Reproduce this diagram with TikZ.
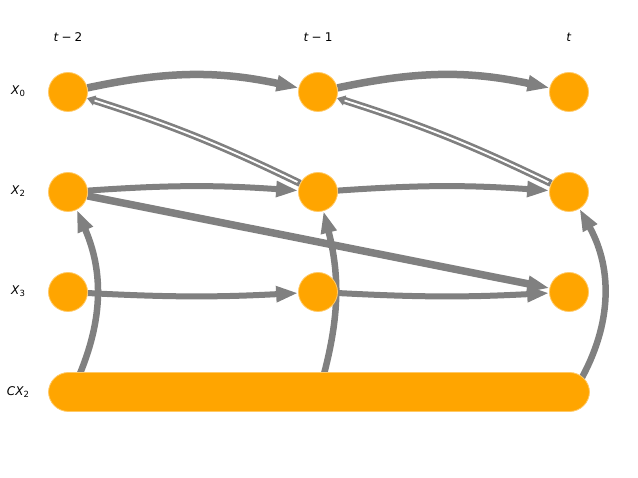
\documentclass[tikz,border=0pt]{standalone}
\usepackage{fontspec}
\setmainfont{DejaVu Sans}
\usetikzlibrary{arrows.meta,backgrounds}
\definecolor{nodeor}{HTML}{FFA500}
\definecolor{edgegr}{HTML}{808080}
\newcommand{\sub}[1]{\raisebox{-2.5pt}{\fontsize{8.5}{10}\selectfont #1}}
\begin{document}
\begin{tikzpicture}[x=1pt,y=-1pt,
  var/.style={circle,fill=nodeor,draw=nodeor!60!white,line width=0.8pt,minimum size=39pt,inner sep=0pt},
  barnode/.style={rectangle,rounded corners=20pt,fill=nodeor,draw=nodeor!60!white,line width=0.8pt,minimum width=541pt,minimum height=39pt,inner sep=0pt},
  lbl/.style={font=\fontsize{12}{14}\selectfont},
  link/.style={draw=edgegr,line width=#1,-{Triangle[length=22pt,width=15pt]}},
  link/.default=6pt,
  dbl/.style={draw=edgegr,line width=7.2pt,{Triangle[length=8pt,width=10pt]}-},
  dblin/.style={draw=white,line width=1.8pt,shorten <=8pt,shorten >=3pt}
]
\useasboundingbox (0,0) rectangle (638,478);

% time labels
\node[lbl] (ta) at (68,37) {\textit{t}\hspace{3pt}−\hspace{3pt}2};
\node[lbl] (tb) at (318,37) {\textit{t}\hspace{3pt}−\hspace{3pt}1};
\node[lbl] (tc) at (569,37) {\textit{t}};

% variable labels
\node[lbl] (l0) at (18,91) {\textit{X}\sub{0}};
\node[lbl] (l2) at (18,191) {\textit{X}\sub{2}};
\node[lbl] (l3) at (18,291) {\textit{X}\sub{3}};
\node[lbl] (lc) at (18,392) {\textit{CX}\sub{2}};

% nodes
\node[var] (x0a) at (68,92) {};
\node[var] (x0b) at (318,92) {};
\node[var] (x0c) at (569,92) {};
\node[var] (x2a) at (68,192) {};
\node[var] (x2b) at (318,192) {};
\node[var] (x2c) at (569,192) {};
\node[var] (x3a) at (68,292) {};
\node[var] (x3b) at (318,292) {};
\node[var] (x3c) at (569,292) {};
\node[barnode] (cx) at (319,392) {};

\coordinate (c1) at (75,385);
\coordinate (c2) at (321,385);
\coordinate (c3) at (576,388);

\begin{scope}[on background layer]
\draw[link=7.5pt] (x0a) to[bend left=12] (x0b);
\draw[link=7.5pt] (x0b) to[bend left=12] (x0c);
\draw[link=6pt] (x2a) to[bend left=4] (x2b);
\draw[link=6pt] (x2b) to[bend left=4] (x2c);
\draw[link=6pt] (x3a) to[bend right=3] (x3b);
\draw[link=6pt] (x3b) to[bend right=3] (x3c);
\draw[link=7.5pt] (x2a) -- (x3c);
\draw[dbl] (x0a) to[bend left=4] (x2b);
\draw[dblin] (x0a) to[bend left=4] (x2b);
\draw[dbl] (x0b) to[bend left=4] (x2c);
\draw[dblin] (x0b) to[bend left=4] (x2c);
\draw[link=6.5pt] (c1) to[bend right=24] (x2a);
\draw[link=6.5pt] (c2) to[bend right=15] (x2b);
\draw[link=6.5pt] (c3) to[bend right=30] (x2c);
\end{scope}
\end{tikzpicture}
\end{document}
